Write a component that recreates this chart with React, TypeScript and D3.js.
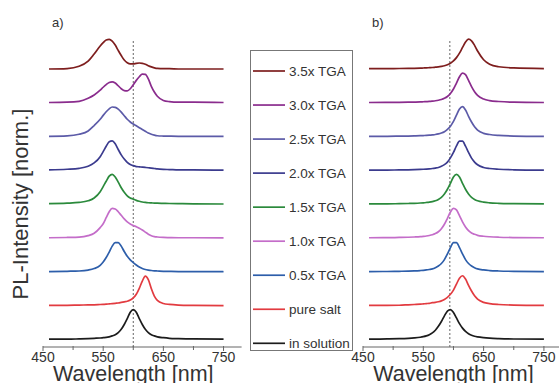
import React from 'react';
import * as d3 from 'd3';

// wavelength grid (nm)
const WAVELENGTHS = [460, 490, 510, 525, 535, 545, 550, 555, 560, 565, 570, 575, 580, 585, 590, 595, 600, 605, 610, 615, 620, 625, 630, 635, 640, 650, 660, 675, 700, 750];

// series, bottom to top
const SERIES = ['in solution', 'pure salt', '0.5x TGA', '1.0x TGA', '1.5x TGA', '2.0x TGA', '2.5x TGA', '3.0x TGA', '3.5x TGA'];
const COLORS = ['#1c1c1c', '#e23b40', '#2d5eaa', '#c46dc9', '#2b8a3c', '#3b3b8e', '#5c5ba8', '#8a2c8d', '#7e1e1e'];

// panel a)
const A_IN_SOLUTION = [0.01, 0.01, 0.02, 0.03, 0.04, 0.05, 0.06, 0.07, 0.09, 0.12, 0.16, 0.23, 0.34, 0.5, 0.7, 0.91, 1, 0.91, 0.7, 0.5, 0.34, 0.23, 0.16, 0.12, 0.09, 0.06, 0.04, 0.03, 0.02, 0.01];
const A_PURE_SALT = [0.01, 0.01, 0.02, 0.025, 0.03, 0.04, 0.045, 0.05, 0.06, 0.07, 0.08, 0.09, 0.11, 0.13, 0.15, 0.19, 0.26, 0.38, 0.58, 0.82, 0.99, 0.87, 0.57, 0.32, 0.18, 0.075, 0.043, 0.022, 0.012, 0.005];
const A_TGA05 = [0.01, 0.02, 0.03, 0.06, 0.11, 0.22, 0.33, 0.48, 0.66, 0.86, 0.98, 0.98, 0.86, 0.68, 0.52, 0.4, 0.31, 0.23, 0.16, 0.11, 0.08, 0.06, 0.045, 0.035, 0.03, 0.02, 0.015, 0.01, 0.01, 0.005];
const A_TGA10 = [0.01, 0.02, 0.03, 0.08, 0.16, 0.35, 0.48, 0.68, 0.88, 0.99, 0.97, 0.88, 0.76, 0.64, 0.54, 0.47, 0.42, 0.38, 0.33, 0.27, 0.2, 0.13, 0.08, 0.05, 0.035, 0.02, 0.015, 0.01, 0.01, 0.005];
const A_TGA15 = [0.02, 0.035, 0.06, 0.115, 0.21, 0.42, 0.59, 0.77, 0.94, 1, 0.91, 0.74, 0.55, 0.4, 0.28, 0.21, 0.17, 0.13, 0.1, 0.075, 0.06, 0.05, 0.045, 0.04, 0.035, 0.03, 0.025, 0.02, 0.015, 0.008];
const A_TGA20 = [0.02, 0.04, 0.07, 0.14, 0.25, 0.46, 0.63, 0.81, 0.96, 0.99, 0.89, 0.7, 0.52, 0.38, 0.27, 0.2, 0.16, 0.13, 0.12, 0.11, 0.1, 0.09, 0.08, 0.065, 0.05, 0.035, 0.03, 0.02, 0.02, 0.01];
const A_TGA25 = [0.01, 0.025, 0.08, 0.19, 0.37, 0.58, 0.71, 0.83, 0.93, 0.99, 0.98, 0.92, 0.82, 0.7, 0.58, 0.49, 0.42, 0.36, 0.3, 0.24, 0.18, 0.12, 0.08, 0.05, 0.03, 0.02, 0.015, 0.01, 0.01, 0.01];
const A_TGA30 = [0.01, 0.02, 0.05, 0.15, 0.26, 0.42, 0.52, 0.61, 0.68, 0.7, 0.66, 0.57, 0.47, 0.41, 0.4, 0.47, 0.6, 0.75, 0.87, 0.96, 0.95, 0.8, 0.55, 0.36, 0.22, 0.08, 0.04, 0.02, 0.02, 0.01];
const A_TGA35 = [0, 0.015, 0.09, 0.26, 0.5, 0.77, 0.88, 0.97, 0.99, 0.93, 0.8, 0.62, 0.45, 0.3, 0.21, 0.17, 0.17, 0.19, 0.2, 0.19, 0.16, 0.11, 0.07, 0.04, 0.02, 0.01, 0.01, 0, 0, 0];

// panel b)
const B_IN_SOLUTION = [0.01, 0.018, 0.027, 0.04, 0.054, 0.076, 0.094, 0.12, 0.16, 0.22, 0.31, 0.44, 0.6, 0.79, 0.95, 1.0, 0.9, 0.72, 0.53, 0.38, 0.27, 0.19, 0.14, 0.107, 0.086, 0.06, 0.044, 0.03, 0.017, 0.01];
const B_PURE_SALT = [0.01, 0.01, 0.015, 0.03, 0.04, 0.05, 0.06, 0.07, 0.08, 0.1, 0.11, 0.13, 0.16, 0.21, 0.28, 0.38, 0.52, 0.72, 0.92, 1.0, 0.89, 0.68, 0.49, 0.33, 0.22, 0.11, 0.07, 0.04, 0.02, 0.01];
const B_TGA05 = [0.01, 0.013, 0.02, 0.026, 0.033, 0.045, 0.053, 0.064, 0.08, 0.1, 0.14, 0.195, 0.28, 0.41, 0.6, 0.81, 0.98, 0.98, 0.81, 0.6, 0.41, 0.28, 0.195, 0.14, 0.1, 0.064, 0.045, 0.03, 0.018, 0.01];
const B_TGA10 = [0.01, 0.013, 0.02, 0.027, 0.035, 0.046, 0.056, 0.068, 0.085, 0.11, 0.15, 0.21, 0.31, 0.46, 0.66, 0.87, 0.995, 0.94, 0.75, 0.54, 0.37, 0.25, 0.17, 0.125, 0.09, 0.06, 0.043, 0.028, 0.017, 0.01];
const B_TGA15 = [0.01, 0.013, 0.018, 0.025, 0.031, 0.041, 0.048, 0.058, 0.07, 0.088, 0.115, 0.16, 0.23, 0.34, 0.5, 0.7, 0.91, 1, 0.91, 0.7, 0.5, 0.34, 0.23, 0.16, 0.115, 0.07, 0.048, 0.031, 0.018, 0.01];
const B_TGA20 = [0.01, 0.012, 0.017, 0.022, 0.027, 0.034, 0.039, 0.045, 0.053, 0.064, 0.08, 0.1, 0.14, 0.195, 0.28, 0.42, 0.6, 0.82, 0.98, 0.98, 0.81, 0.6, 0.41, 0.28, 0.19, 0.1, 0.064, 0.04, 0.022, 0.01];
const B_TGA25 = [0.01, 0.01, 0.015, 0.02, 0.025, 0.031, 0.036, 0.041, 0.048, 0.058, 0.07, 0.09, 0.12, 0.165, 0.24, 0.35, 0.51, 0.72, 0.92, 1.0, 0.89, 0.68, 0.49, 0.33, 0.22, 0.11, 0.07, 0.04, 0.02, 0.01];
const B_TGA30 = [0.01, 0.012, 0.015, 0.02, 0.025, 0.031, 0.036, 0.041, 0.046, 0.056, 0.068, 0.085, 0.11, 0.15, 0.21, 0.31, 0.46, 0.66, 0.87, 0.995, 0.94, 0.75, 0.54, 0.37, 0.25, 0.125, 0.072, 0.043, 0.02, 0.01];
const B_TGA35 = [0.01, 0.012, 0.016, 0.02, 0.024, 0.03, 0.034, 0.038, 0.044, 0.05, 0.06, 0.07, 0.086, 0.107, 0.14, 0.19, 0.27, 0.38, 0.53, 0.72, 0.9, 0.997, 0.94, 0.79, 0.6, 0.31, 0.16, 0.076, 0.036, 0.015];

const PANEL_A = [A_IN_SOLUTION, A_PURE_SALT, A_TGA05, A_TGA10, A_TGA15, A_TGA20, A_TGA25, A_TGA30, A_TGA35];
const PANEL_B = [B_IN_SOLUTION, B_PURE_SALT, B_TGA05, B_TGA10, B_TGA15, B_TGA20, B_TGA25, B_TGA30, B_TGA35];

const X_DOMAIN = [450, 780];
const X_MAJOR = [450, 550, 650, 750];
const X_MINOR = [500, 600, 700];
const REF_A = 600;
const REF_B = 594;
const OFFSET = 1.13;

const FONT = '"Liberation Sans", Arial, Helvetica, sans-serif';
const TEXT = '#333';
const AXIS_Y = 347;

const yScale = d3.scaleLinear().domain([0, 8 * OFFSET]).range([339.5, 69]);

function Panel({ data, x0, x1, refLine, label }: { data: number[][]; x0: number; x1: number; refLine: number; label: string }) {
  const x = d3.scaleLinear().domain(X_DOMAIN).range([x0, x1]);
  return (
    <g>
      <line x1={x(refLine)} x2={x(refLine)} y1={41} y2={AXIS_Y} stroke="#666" strokeWidth={1} strokeDasharray="2,2" />
      {data.map((vals, i) => {
        const line = d3
          .line<[number, number]>()
          .x((d) => x(d[0]))
          .y((d) => yScale(i * OFFSET + d[1]))
          .curve(d3.curveMonotoneX);
        const pts: [number, number][] = WAVELENGTHS.map((w, j) => [w, vals[j]] as [number, number]).filter((p) => p[1] !== undefined);
        return <path key={i} d={line(pts) || ''} fill="none" stroke={COLORS[i]} strokeWidth={1.7} strokeLinejoin="round" />;
      })}
      <line x1={x(X_DOMAIN[0])} x2={x(X_DOMAIN[1])} y1={AXIS_Y} y2={AXIS_Y} stroke="#666" strokeWidth={1} />
      {X_MAJOR.map((t) => (
        <g key={t}>
          <line x1={x(t)} x2={x(t)} y1={AXIS_Y - 1} y2={AXIS_Y + 4} stroke="#666" strokeWidth={1} />
          <text x={x(t)} y={362} textAnchor="middle" fontSize={14} fill={TEXT} fontFamily={FONT}>{t}</text>
        </g>
      ))}
      {X_MINOR.map((t) => (
        <line key={t} x1={x(t)} x2={x(t)} y1={AXIS_Y - 1} y2={AXIS_Y + 3} stroke="#666" strokeWidth={1} />
      ))}
      <text x={(x(450) + x(750)) / 2} y={380.5} textAnchor="middle" fontSize={21.5} fill={TEXT} fontFamily={FONT}>Wavelength [nm]</text>
      <text x={x(450) + 9} y={27} fontSize={13} fill={TEXT} fontFamily={FONT}>{label}</text>
    </g>
  );
}

function Legend() {
  const ly = d3.scaleLinear().domain([0, 8]).range([343.3, 71]);
  return (
    <g>
      <rect x={250.5} y={50.5} width={102} height={300} fill="white" stroke="#777" strokeWidth={1} />
      {SERIES.map((s, i) => (
        <g key={s}>
          <line x1={253} x2={285} y1={ly(i)} y2={ly(i)} stroke={COLORS[i]} strokeWidth={1.7} />
          <text x={289} y={ly(i)} dy="0.36em" fontSize={13.5} fill={TEXT} fontFamily={FONT}>{s}</text>
        </g>
      ))}
    </g>
  );
}

export default function App() {
  return (
    <svg width={559} height={383} viewBox="0 0 559 383" style={{ position: 'absolute', left: 0, top: 0, background: 'white' }}>
      <rect x={0} y={0} width={559} height={383} fill="white" />
      <Panel data={PANEL_A} x0={43} x1={241.6} refLine={REF_A} label="a)" />
      <Panel data={PANEL_B} x0={363} x1={562} refLine={REF_B} label="b)" />
      <Legend />
      <text transform="translate(27.5,204) rotate(-90)" textAnchor="middle" fontSize={22} fill={TEXT} fontFamily={FONT}>PL-Intensity [norm.]</text>
    </svg>
  );
}
